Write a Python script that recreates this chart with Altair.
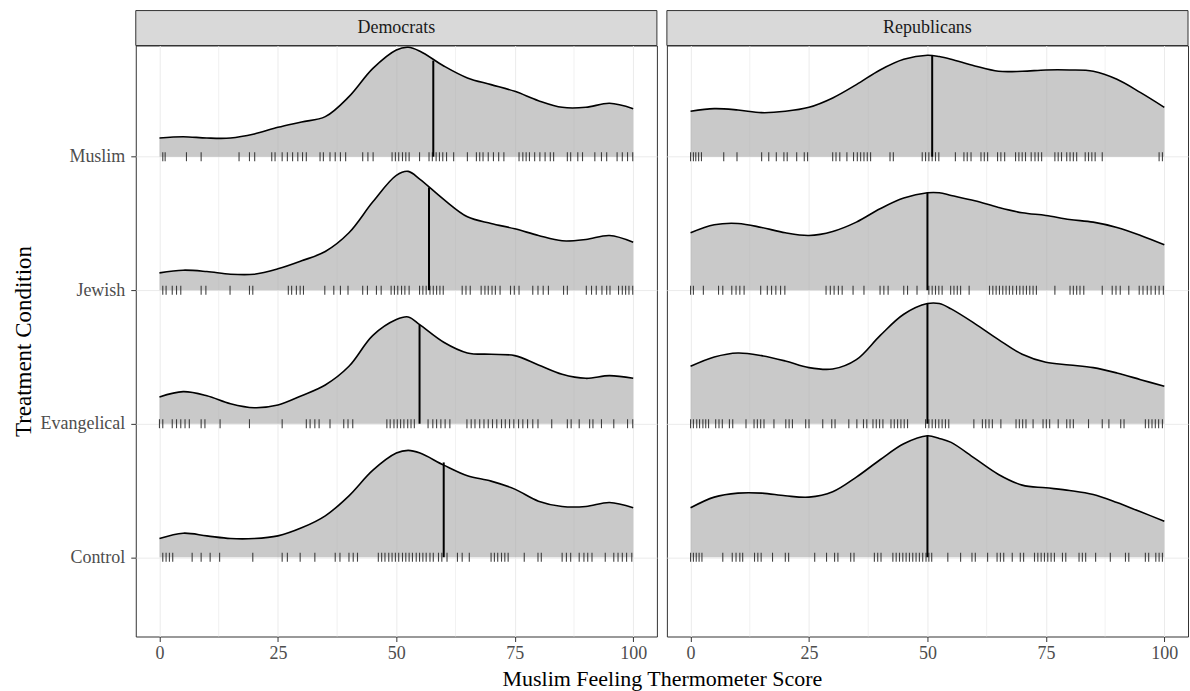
import altair as alt
import pandas as pd

FONT = "Liberation Serif"

# ---------------- data ----------------
conditions = ["Control", "Evangelical", "Jewish", "Muslim"]
condition_pos = [1, 2, 3, 4]
parties = ["Democrats", "Republicans"]

x_ticks = [0, 25, 50, 75, 100]
minor_grid = [12.5, 37.5, 62.5, 87.5]

# density curve heights (in ridge units) read at these scores
score_grid = [0, 5, 10, 15, 20, 25, 30, 35, 40, 45, 50, 52.5, 55, 60, 65, 70, 75, 80, 85, 90, 95, 100]

dem_control_density = [0.14, 0.18, 0.16, 0.14, 0.14, 0.16, 0.22, 0.31, 0.46, 0.65, 0.78, 0.80, 0.78, 0.69, 0.61, 0.57, 0.51, 0.42, 0.38, 0.38, 0.41, 0.37]
dem_evangelical_density = [0.20, 0.24, 0.21, 0.15, 0.12, 0.14, 0.21, 0.29, 0.43, 0.66, 0.78, 0.80, 0.74, 0.61, 0.53, 0.52, 0.51, 0.44, 0.37, 0.34, 0.36, 0.34]
dem_jewish_density = [0.13, 0.15, 0.14, 0.12, 0.12, 0.16, 0.22, 0.29, 0.43, 0.66, 0.86, 0.89, 0.83, 0.68, 0.55, 0.50, 0.46, 0.41, 0.37, 0.38, 0.41, 0.36]
dem_muslim_density = [0.14, 0.15, 0.14, 0.14, 0.17, 0.22, 0.26, 0.30, 0.45, 0.66, 0.80, 0.82, 0.79, 0.68, 0.59, 0.54, 0.49, 0.42, 0.37, 0.37, 0.40, 0.36]

rep_control_density = [0.37, 0.45, 0.48, 0.48, 0.46, 0.45, 0.49, 0.60, 0.73, 0.85, 0.91, 0.89, 0.86, 0.74, 0.62, 0.54, 0.52, 0.50, 0.47, 0.41, 0.34, 0.27]
rep_evangelical_density = [0.43, 0.50, 0.53, 0.51, 0.47, 0.42, 0.41, 0.48, 0.66, 0.82, 0.90, 0.90, 0.86, 0.75, 0.63, 0.52, 0.46, 0.44, 0.42, 0.38, 0.33, 0.28]
rep_jewish_density = [0.43, 0.49, 0.50, 0.47, 0.43, 0.41, 0.44, 0.51, 0.61, 0.69, 0.73, 0.73, 0.71, 0.67, 0.62, 0.58, 0.56, 0.53, 0.51, 0.47, 0.41, 0.34]
rep_muslim_density = [0.34, 0.36, 0.35, 0.33, 0.34, 0.37, 0.44, 0.54, 0.65, 0.73, 0.76, 0.75, 0.73, 0.68, 0.64, 0.64, 0.65, 0.65, 0.64, 0.58, 0.48, 0.37]

# median lines (score) and the curve height where they stop
dem_medians = [60.0, 54.9, 56.9, 57.8]
dem_median_heights = [0.71, 0.74, 0.77, 0.72]
rep_medians = [50.0, 50.0, 50.0, 51.0]
rep_median_heights = [0.91, 0.90, 0.73, 0.76]

# rug (individual responses)
dem_control_rug = [0.7, 1.4, 2.1, 2.8, 6.9, 8.8, 10.7, 12.7, 19.7, 25.9, 27.0, 29.7, 32.8, 37.1, 38.1, 40.0, 40.9, 41.8,
                   46.2, 46.9, 47.6, 48.4, 49.1, 49.8, 50.5, 51.3, 52.0, 52.7, 53.4, 54.2, 54.9, 55.6, 56.3, 57.1, 57.8,
                   58.9, 59.6, 60.7, 62.9, 63.9, 65.4, 70.0, 70.7, 71.4, 72.2, 72.9, 73.6, 77.0, 79.9, 80.6, 85.0, 85.9,
                   86.8, 88.6, 89.6, 90.4, 91.3, 94.1, 95.9, 96.8, 97.7, 98.6, 99.7]
dem_evangelical_rug = [0.0, 0.7, 2.7, 3.6, 4.5, 5.4, 6.3, 8.8, 9.6, 12.8, 19.0, 25.9, 31.0, 31.8, 32.8, 33.7, 36.0, 38.9,
                       39.8, 40.8, 48.0, 48.7, 49.5, 50.2, 50.9, 51.6, 52.4, 53.1, 53.8, 56.7, 57.7, 58.5, 59.4, 60.3,
                       61.3, 64.9, 65.8, 66.6, 67.6, 68.5, 69.4, 70.3, 71.2, 72.2, 73.0, 73.9, 74.8, 75.8, 76.7, 77.7,
                       78.8, 79.9, 82.8, 86.1, 86.9, 88.6, 90.8, 91.5, 93.3, 95.9, 98.8, 99.9]
dem_jewish_rug = [0.7, 1.4, 2.7, 3.6, 4.5, 8.8, 9.8, 14.9, 19.0, 19.7, 27.2, 27.9, 28.9, 29.7, 30.4, 34.9, 36.8, 38.2,
                  39.8, 42.9, 43.9, 45.8, 46.8, 48.9, 49.6, 50.3, 51.1, 51.8, 52.7, 54.9, 55.6, 56.3, 57.1, 57.8, 58.5,
                  59.2, 59.9, 63.9, 64.7, 65.6, 67.9, 68.7, 69.4, 70.2, 70.9, 71.9, 74.1, 74.9, 75.9, 78.8, 79.9, 81.0,
                  82.1, 85.3, 86.1, 90.1, 91.2, 92.2, 93.4, 94.4, 95.1, 96.9, 97.7, 98.4, 99.1, 99.9]
dem_muslim_rug = [0.7, 1.2, 5.7, 8.8, 16.8, 19.0, 20.1, 23.7, 24.4, 25.9, 27.0, 28.1, 29.2, 30.2, 31.0, 33.9, 34.6, 36.0,
                  37.1, 38.2, 39.3, 42.9, 44.0, 45.1, 49.1, 49.8, 50.5, 51.3, 52.0, 52.7, 54.9, 56.9, 57.6, 58.4, 59.1,
                  59.8, 60.6, 62.1, 65.0, 66.9, 67.6, 68.3, 69.4, 70.5, 71.6, 72.7, 75.9, 76.7, 77.4, 78.1, 79.2, 80.3,
                  81.4, 82.5, 83.2, 86.1, 86.8, 88.3, 89.3, 91.9, 93.3, 94.4, 96.6, 97.7, 98.8, 99.9]

rep_control_rug = [0.0, 0.6, 1.2, 1.8, 2.4, 6.8, 8.8, 9.6, 10.4, 11.0, 13.5, 14.2, 14.9, 17.3, 20.0, 20.7, 26.2, 28.7,
                   30.4, 31.1, 33.8, 34.5, 38.8, 39.5, 40.2, 42.7, 43.4, 44.1, 44.8, 45.5, 46.2, 46.9, 47.6, 48.3, 49.0,
                   49.7, 50.3, 50.9, 54.3, 57.0, 59.4, 60.1, 62.7, 64.7, 65.4, 66.1, 67.9, 69.6, 70.3, 72.6, 73.3, 74.0,
                   74.7, 75.4, 76.1, 76.8, 78.5, 79.2, 82.0, 82.7, 83.4, 85.5, 88.6, 91.8, 92.5, 96.0, 96.7, 98.2,
                   98.9, 99.6]
rep_evangelical_rug = [0.0, 0.6, 1.3, 1.9, 2.6, 3.2, 3.8, 5.3, 6.0, 6.7, 8.2, 8.9, 11.7, 13.4, 14.1, 14.8, 15.5, 17.6,
                       20.1, 20.8, 21.5, 24.3, 25.0, 27.9, 29.8, 30.5, 33.4, 35.1, 36.5, 37.2, 38.5, 39.2, 39.9, 40.6,
                       42.3, 43.0, 43.7, 44.4, 45.1, 45.8, 49.6, 50.3, 51.0, 51.7, 52.4, 53.1, 53.8, 54.5, 59.8, 61.6,
                       62.3, 63.0, 63.7, 65.5, 68.7, 69.4, 70.1, 70.8, 72.3, 74.4, 75.1, 75.8, 77.6, 79.4, 80.1, 80.8,
                       84.0, 86.9, 88.3, 90.8, 91.5, 96.0, 96.7, 97.4, 98.1, 98.8, 99.6]
rep_jewish_rug = [0.0, 0.6, 2.7, 5.9, 6.8, 8.7, 9.6, 10.4, 11.3, 14.8, 16.2, 17.1, 18.0, 19.0, 19.9, 28.6, 29.5, 30.3,
                  31.2, 32.0, 34.3, 36.6, 40.0, 40.8, 41.7, 45.0, 45.8, 47.8, 50.3, 51.0, 51.7, 52.4, 53.1, 54.9, 55.6,
                  56.3, 57.0, 58.8, 63.1, 63.8, 64.5, 65.2, 65.9, 66.6, 67.3, 68.0, 68.8, 69.5, 70.2, 70.9, 71.6, 72.3,
                  73.0, 76.9, 80.1, 80.8, 81.5, 82.2, 83.0, 86.9, 89.0, 89.8, 90.7, 92.5, 94.7, 95.5, 96.4, 97.2, 98.1,
                  98.9, 99.8]
rep_muslim_rug = [0.0, 0.6, 1.1, 1.7, 2.3, 7.0, 9.8, 15.0, 16.5, 18.1, 19.7, 20.4, 22.4, 24.0, 24.7, 30.0, 30.7, 31.5,
                  33.0, 34.4, 35.2, 35.9, 36.6, 37.3, 38.0, 42.1, 42.8, 48.9, 49.6, 50.3, 51.0, 51.7, 52.4, 55.9, 57.7,
                  58.4, 59.2, 61.3, 62.0, 62.7, 64.8, 65.5, 66.3, 68.6, 69.3, 70.0, 70.7, 71.9, 72.7, 73.4, 74.1, 76.9,
                  77.6, 78.3, 79.4, 80.1, 80.8, 81.5, 83.3, 84.0, 84.7, 85.4, 86.9, 98.9, 99.6]

density = {
    "Democrats": [dem_control_density, dem_evangelical_density, dem_jewish_density, dem_muslim_density],
    "Republicans": [rep_control_density, rep_evangelical_density, rep_jewish_density, rep_muslim_density],
}
rugs = {
    "Democrats": [dem_control_rug, dem_evangelical_rug, dem_jewish_rug, dem_muslim_rug],
    "Republicans": [rep_control_rug, rep_evangelical_rug, rep_jewish_rug, rep_muslim_rug],
}
medians = {"Democrats": dem_medians, "Republicans": rep_medians}
median_heights = {"Democrats": dem_median_heights, "Republicans": rep_median_heights}

# ---------------- layout ----------------
PANEL_W = 522
PANEL_H = 592
STRIP_H = 35
CURVE = "catmull-rom"

x_scale = alt.Scale(domain=[-5, 105], nice=False, zero=False)
y_scale = alt.Scale(domain=[0.406, 4.833], nice=False, zero=False)

label_expr = "[" + ", ".join(["''"] + ["'%s'" % c for c in conditions]) + "][datum.value]"


def panel(party, first):
    drows, rrows, mrows = [], [], []
    for cond, pos, dens, rug, med, mh in zip(conditions, condition_pos, density[party], rugs[party],
                                             medians[party], median_heights[party]):
        for s, h in zip(score_grid, dens):
            drows.append({"condition": cond, "score": s, "base": pos, "top": pos + h})
        for r in rug:
            rrows.append({"condition": cond, "score": r, "base": pos})
        mrows.append({"condition": cond, "score": med, "base": pos, "top": pos + mh})
    dens_df = pd.DataFrame(drows)
    rug_df = pd.DataFrame(rrows)
    med_df = pd.DataFrame(mrows)
    grid_df = pd.DataFrame({"score": minor_grid})

    if first:
        x_axis = alt.Axis(values=x_ticks, grid=True, gridColor="#EBEBEB", gridWidth=1, domain=False,
                          tickColor="#333333", tickSize=5, labelFont=FONT, labelFontSize=18,
                          labelColor="#4D4D4D", labelPadding=3,
                          title="Muslim Feeling Thermometer Score", titleFont=FONT, titleFontSize=22,
                          titleFontWeight="normal", titleColor="black", titleX=527, titleY=42,
                          titleAlign="center", titleBaseline="middle")
        y_axis = alt.Axis(values=condition_pos, labelExpr=label_expr, grid=True, gridColor="#EBEBEB",
                          gridWidth=1, domain=False, tickColor="#333333", tickSize=5, labelFont=FONT,
                          labelFontSize=18, labelColor="#4D4D4D", labelPadding=6,
                          title="Treatment Condition", titleFont=FONT, titleFontSize=23,
                          titleFontWeight="normal", titleColor="black", titleX=-112, titleY=296,
                          titleAngle=270, titleAlign="center", titleBaseline="middle")
    else:
        x_axis = alt.Axis(values=x_ticks, grid=True, gridColor="#EBEBEB", gridWidth=1, domain=False,
                          tickColor="#333333", tickSize=5, labelFont=FONT, labelFontSize=18,
                          labelColor="#4D4D4D", labelPadding=3, title=None)
        y_axis = alt.Axis(values=condition_pos, grid=True, gridColor="#EBEBEB", gridWidth=1, domain=False,
                          ticks=False, labels=False, title=None)

    minor = alt.Chart(grid_df).mark_rule(color="#EBEBEB", strokeWidth=0.7).encode(
        x=alt.X("score:Q", scale=x_scale, axis=x_axis)
    )
    area = alt.Chart(dens_df).mark_area(interpolate=CURVE, color="#a8a8a8", opacity=0.62,
                                        clip=True).encode(
        x=alt.X("score:Q", scale=x_scale, axis=x_axis),
        y=alt.Y("top:Q", scale=y_scale, axis=y_axis),
        y2="base:Q",
        detail="condition:N",
    )
    line = alt.Chart(dens_df).mark_line(interpolate=CURVE, color="black", strokeWidth=1.6,
                                        clip=True).encode(
        x=alt.X("score:Q", scale=x_scale),
        y=alt.Y("top:Q", scale=y_scale),
        detail="condition:N",
    )
    rug = alt.Chart(rug_df).mark_tick(orient="vertical", size=9, thickness=1.1, color="#222222",
                                      opacity=0.85).encode(
        x=alt.X("score:Q", scale=x_scale),
        y=alt.Y("base:Q", scale=y_scale),
    )
    med = alt.Chart(med_df).mark_rule(color="black", strokeWidth=2).encode(
        x=alt.X("score:Q", scale=x_scale),
        y=alt.Y("base:Q", scale=y_scale),
        y2="top:Q",
    )
    strip_df = pd.DataFrame({"party": [party]})
    strip = alt.Chart(strip_df).mark_rect(fill="#D9D9D9", stroke="#333333", strokeWidth=1).encode(
        x=alt.value(0), x2=alt.value(PANEL_W), y=alt.value(-STRIP_H), y2=alt.value(0)
    )
    strip_text = alt.Chart(strip_df).mark_text(font=FONT, fontSize=18, color="#1A1A1A",
                                               baseline="middle", align="center").encode(
        x=alt.value(PANEL_W / 2), y=alt.value(-STRIP_H / 2), text="party:N"
    )
    return alt.layer(minor, area, line, rug, med, strip, strip_text).properties(
        width=PANEL_W, height=PANEL_H
    )


chart = alt.hconcat(panel(parties[0], True), panel(parties[1], False), spacing=10, bounds="flush").properties(
    autosize=alt.AutoSizeParams(type="pad"),
    padding={"left": 12, "top": 9, "right": 1, "bottom": 0},
    background="white",
).configure_view(stroke="#333333", strokeWidth=1)

chart.save("out.html", embed_options={"renderer": "svg", "actions": False})
